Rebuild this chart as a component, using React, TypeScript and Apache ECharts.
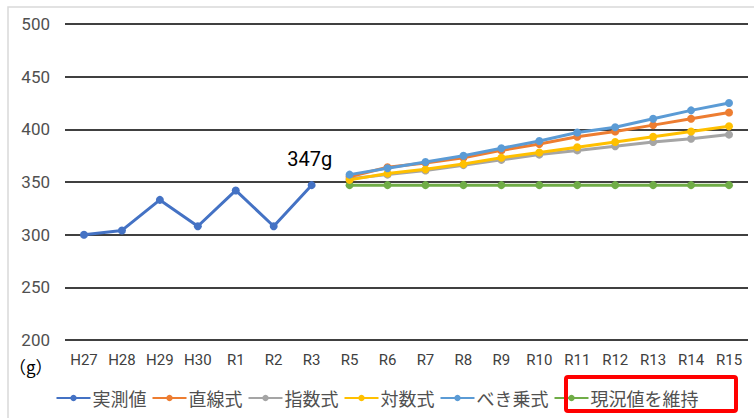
import React, { useEffect, useRef } from "react";
import * as echarts from "echarts";

const categories = ["H27", "H28", "H29", "H30", "R1", "R2", "R3", "R5", "R6", "R7", "R8", "R9", "R10", "R11", "R12", "R13", "R14", "R15"];
const measured = [300, 304, 333, 308, 342, 308, 347, null, null, null, null, null, null, null, null, null, null, null];
const linear = [null, null, null, null, null, null, null, 355, 364, 368, 373, 380, 386, 393, 398, 404, 410, 416];
const exponential = [null, null, null, null, null, null, null, 353, 357, 361, 366, 371, 376, 380, 384, 388, 391, 395];
const logarithmic = [null, null, null, null, null, null, null, 352, 358, 362, 367, 373, 378, 383, 388, 393, 398, 403];
const power = [null, null, null, null, null, null, null, 357, 363, 369, 375, 382, 389, 397, 402, 410, 418, 425];
const keepCurrent = [null, null, null, null, null, null, null, 347, 347, 347, 347, 347, 347, 347, 347, 347, 347, 347];
const yTicks = [200, 250, 300, 350, 400, 450, 500];

const seriesNames = ["実測値", "直線式", "指数式", "対数式", "べき乗式", "現況値を維持"];
const colors = ["#4472C4", "#ED7D31", "#A5A5A5", "#FFC000", "#5B9BD5", "#70AD47"];

export default function App() {
  const ref = useRef<HTMLDivElement>(null);
  useEffect(() => {
    const chart = echarts.init(ref.current!, null, { renderer: "svg" });
    const datasets = [measured, linear, exponential, logarithmic, power, keepCurrent];
    const zs = [10, 4, 3, 5, 6, 2];
    chart.setOption({
      animation: false,
      backgroundColor: "#ffffff",
      color: colors,
      grid: { left: 65, right: 6, top: 24, bottom: 78 },
      xAxis: {
        type: "category",
        data: categories,
        boundaryGap: true,
        axisLine: { show: false },
        axisTick: { show: false },
        axisLabel: {
          color: "#404040",
          fontSize: 15,
          fontFamily: "Roboto, sans-serif",
          margin: 12,
          interval: 0,
        },
      },
      yAxis: {
        type: "value",
        min: yTicks[0],
        max: yTicks[yTicks.length - 1],
        interval: 50,
        axisLine: { show: false },
        axisTick: { show: false },
        splitLine: { lineStyle: { color: "#404040", width: 2 } },
        axisLabel: {
          color: "#505050",
          fontSize: 17,
          fontFamily: "Roboto, sans-serif",
          margin: 15,
        },
      },
      legend: {
        bottom: 6,
        left: "center",
        itemWidth: 34,
        itemHeight: 8,
        itemGap: 5,
        data: seriesNames,
        textStyle: {
          color: "#505050",
          fontSize: 18,
          fontFamily: "Noto Sans CJK JP, sans-serif",
          padding: [0, 0, 0, -3],
        },
      },
      series: datasets.map((d, i) => ({
        name: seriesNames[i],
        type: "line",
        data: d,
        z: zs[i],
        symbol: "circle",
        symbolSize: 8,
        showSymbol: true,
        lineStyle: { width: 3, color: colors[i] },
        itemStyle: { color: colors[i] },
        label:
          i === 0
            ? {
                show: true,
                position: "top",
                distance: 12,
                offset: [-2, 0],
                color: "#000000",
                fontSize: 20,
                fontFamily: "Roboto, sans-serif",
                formatter: (p: any) => (p.dataIndex === 6 ? p.value + "g" : ""),
              }
            : { show: false },
      })),
      graphic: [
        {
          type: "rect",
          shape: { x: 8, y: 7, width: 800, height: 420 },
          style: { fill: "none", stroke: "#d9d9d9", lineWidth: 1.5 },
          silent: true,
          z: -1,
        },
        {
          type: "text",
          x: 9,
          y: 358,
          style: {
            text: "（g）",
            fontSize: 17,
            fill: "#000000",
            fontFamily: "Noto Sans CJK JP, serif",
          },
        },
        {
          type: "rect",
          shape: { x: 566, y: 377, width: 170, height: 34, r: 2 },
          style: { fill: "none", stroke: "#ff0000", lineWidth: 4 },
          z: 100,
        },
      ],
    });
    return () => chart.dispose();
  }, []);
  return <div ref={ref} style={{ position: "fixed", left: 0, top: 0, width: 754, height: 418 }} />;
}
